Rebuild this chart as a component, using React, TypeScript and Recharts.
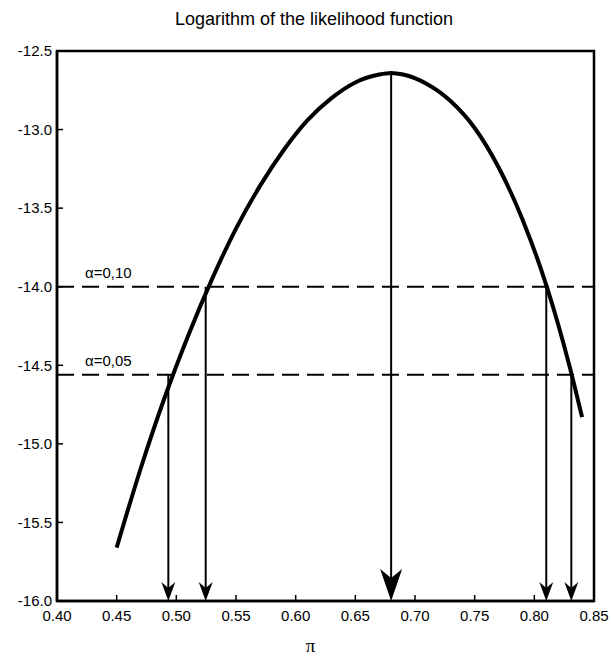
import React from 'react';
import { LineChart, Line, XAxis, YAxis, ReferenceLine, ReferenceArea } from 'recharts';

const titleText = 'Logarithm of the likelihood function';
const xAxisLabel = 'π';

const piValues = [0.45, 0.47, 0.49, 0.51, 0.53, 0.55, 0.57, 0.59, 0.61, 0.63, 0.65, 0.67, 0.68, 0.69, 0.71, 0.73, 0.75, 0.77, 0.79, 0.81, 0.82, 0.83, 0.84];
const logLikelihood = [-15.66, -15.16, -14.71, -14.31, -13.95, -13.63, -13.36, -13.13, -12.94, -12.8, -12.7, -12.65, -12.64, -12.65, -12.71, -12.82, -12.99, -13.24, -13.57, -13.99, -14.24, -14.52, -14.83];

const xTicks = [0.4, 0.45, 0.5, 0.55, 0.6, 0.65, 0.7, 0.75, 0.8, 0.85];
const yTicks = [-16.0, -15.5, -15.0, -14.5, -14.0, -13.5, -13.0, -12.5];

const alphaLevels = [-14.0, -14.56];
const alphaLabels = ['α=0,10', 'α=0,05'];

const arrowPi = [0.4933, 0.5246, 0.68, 0.81, 0.831];
const arrowFrom = [-14.56, -14.0, -12.64, -14.0, -14.56];
const arrowBig = [false, false, true, false, false];

const data = piValues.map((p, i) => ({ pi: p, ll: logLikelihood[i] }));

const FONT = '"Liberation Sans", Arial, Helvetica, sans-serif';

const makeArrow = (big: boolean) => (props: any) => {
  const { x1, y1, x2, y2 } = props;
  const topY = Math.min(y1, y2);
  const tipY = Math.max(y1, y2);
  const x = x1;
  const w = big ? 22 : 14;
  const h = big ? 32 : 19;
  const n = big ? 9 : 6;
  return (
    <g>
      <line x1={x} y1={topY} x2={x} y2={tipY - h + n} stroke="#000" strokeWidth={2} />
      <polygon
        points={`${x},${tipY} ${x - w / 2},${tipY - h} ${x},${tipY - h + n} ${x + w / 2},${tipY - h}`}
        fill="#000"
      />
    </g>
  );
};

const AlphaLabel = (props: any) => {
  const vb = props.viewBox || {};
  const left = Math.min(vb.x, vb.x + (vb.width || 0));
  return (
    <text x={left + 28} y={vb.y - 9} fontSize={15} fontFamily={FONT} fill="#000" textAnchor="start">
      {props.text}
    </text>
  );
};

const PiLabel = (props: any) => {
  const vb = props.viewBox || {};
  return (
    <text x={vb.x + vb.width / 2 - 15} y={vb.y + 51} fontSize={19} fontFamily='"Liberation Serif", "DejaVu Serif", serif' fill="#000" textAnchor="middle">
      {xAxisLabel}
    </text>
  );
};

export default function App() {
  return (
    <div style={{ position: 'fixed', left: 0, top: 0, width: 611, height: 656, background: '#fff' }}>
      <div
        style={{
          position: 'absolute',
          left: 114,
          top: 8,
          width: 400,
          textAlign: 'center',
          fontFamily: FONT,
          fontSize: 18,
          lineHeight: '22px',
          color: '#000',
        }}
      >
        {titleText}
      </div>
      <div style={{ position: 'absolute', left: 0, top: 0 }}>
        <LineChart width={611} height={656} data={data} margin={{ top: 51, right: 17, left: 0, bottom: 0 }}>
          <XAxis
            dataKey="pi"
            type="number"
            domain={[0.4, 0.85]}
            ticks={xTicks}
            allowDataOverflow
            height={55}
            tickSize={-6}
            tickMargin={15}
            tickFormatter={(v: number) => v.toFixed(2)}
            tick={{ fill: '#000', fontSize: 15, fontFamily: FONT }}
            axisLine={{ stroke: '#000', strokeWidth: 2.5 }}
            tickLine={{ stroke: '#000', strokeWidth: 1.5 }}
            interval={0}
            label={<PiLabel />}
          />
          <YAxis
            type="number"
            domain={[-16, -12.5]}
            ticks={yTicks}
            allowDataOverflow
            width={57}
            tickSize={-6}
            tickMargin={11}
            tickFormatter={(v: number) => v.toFixed(1)}
            tick={{ fill: '#000', fontSize: 15, fontFamily: FONT }}
            axisLine={{ stroke: '#000', strokeWidth: 2.5 }}
            tickLine={{ stroke: '#000', strokeWidth: 1.5 }}
            interval={0}
          />
          <ReferenceArea
            x1={0.4}
            x2={0.85}
            y1={-16}
            y2={-12.5}
            fill="none"
            fillOpacity={0}
            stroke="#000"
            strokeWidth={2.5}
            ifOverflow="visible"
          />
          {alphaLevels.map((lvl, i) => (
            <ReferenceLine
              key={'a' + i}
              y={lvl}
              stroke="#000"
              strokeWidth={2}
              strokeDasharray="17 8"
              label={<AlphaLabel text={alphaLabels[i]} />}
            />
          ))}
          {arrowPi.map((p, i) => (
            <ReferenceLine
              key={'r' + i}
              segment={[
                { x: p, y: arrowFrom[i] },
                { x: p, y: -16 },
              ]}
              stroke="#000"
              strokeWidth={2}
              ifOverflow="visible"
              shape={makeArrow(arrowBig[i])}
            />
          ))}
          <Line
            type="monotone"
            dataKey="ll"
            stroke="#000"
            strokeWidth={4}
            dot={false}
            isAnimationActive={false}
          />
        </LineChart>
      </div>
    </div>
  );
}
